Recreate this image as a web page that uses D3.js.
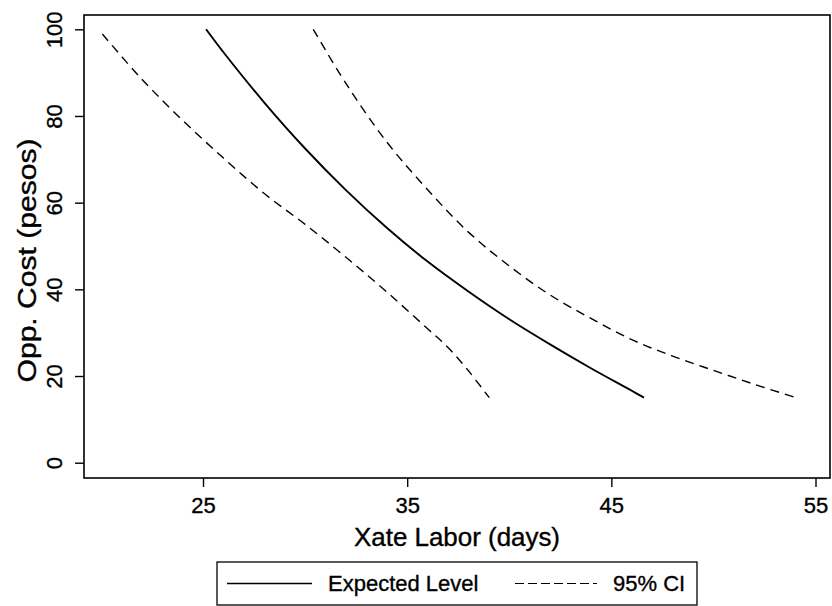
<!DOCTYPE html>
<html>
<head>
<meta charset="utf-8">
<script src="https://cdn.jsdelivr.net/npm/d3@7"></script>
<style>
  html, body { margin: 0; padding: 0; background: #fff; }
  svg { display: block; font-family: "Liberation Sans", Arial, sans-serif; }
  svg text { stroke: #000; stroke-width: 0.35px; }
</style>
</head>
<body>
<svg id="chart" width="832" height="606"></svg>
<script>
// Xate labor (days) against opportunity cost (pesos)
const expectedX = [25.15, 26, 28, 30, 32, 34, 36, 38, 40, 42, 44, 46, 46.6];
const expectedY = [100, 94.7, 83.1, 72.5, 62.9, 54.2, 46.4, 39.5, 33.1, 27.3, 21.8, 16.6, 15];

const upperX = [30.4, 32, 34, 36, 38, 40, 42, 44, 46, 48, 50, 52, 54.05];
const upperY = [100, 87.5, 74.0, 63.0, 53.2, 45.4, 38.7, 33.3, 28.4, 24.6, 21.3, 18.1, 15];

const lowerX = [20.07, 22, 24, 26, 28, 30, 32, 34, 36, 37, 38, 39.02];
const lowerY = [98.9, 88.5, 79.0, 70.3, 62.1, 55.0, 47.4, 39.4, 30.9, 26.6, 21.2, 15];

const xTicks = [25, 35, 45, 55];
const yTicks = [0, 20, 40, 60, 80, 100];
const legendLabels = ["Expected Level", "95% CI"];
const xTitle = "Xate Labor (days)";
const yTitle = "Opp. Cost (pesos)";

const svg = d3.select("#chart");
const plot = { left: 84, top: 15, right: 830, bottom: 478 };

const x = d3.scaleLinear().domain([19.17, 55.71]).range([plot.left, plot.right]);
const y = d3.scaleLinear().domain([-3.53, 103.3]).range([plot.bottom, plot.top]);

const zip = (xs, ys) => xs.map((v, i) => [v, ys[i]]);
const line = d3.line().x(d => x(d[0])).y(d => y(d[1])).curve(d3.curveCatmullRom.alpha(0.5));

// curves: lower and upper confidence bounds dashed, expected level solid
const g = svg.append("g");
[zip(lowerX, lowerY), zip(upperX, upperY)].forEach(pts => {
  g.append("path").datum(pts)
    .attr("d", line).attr("fill", "none").attr("stroke", "#000")
    .attr("stroke-width", 1.4).attr("stroke-dasharray", "9,6");
});
g.append("path").datum(zip(expectedX, expectedY))
  .attr("d", line).attr("fill", "none").attr("stroke", "#000")
  .attr("stroke-width", 1.9);

// frame
svg.append("rect")
  .attr("x", plot.left).attr("y", plot.top)
  .attr("width", plot.right - plot.left).attr("height", plot.bottom - plot.top)
  .attr("fill", "none").attr("stroke", "#000").attr("stroke-width", 1.6);

// x axis
const xAxis = d3.axisBottom(x).tickValues(xTicks).tickSize(9).tickPadding(10).tickFormat(d3.format("d"));
const xg = svg.append("g").attr("transform", `translate(0,${plot.bottom})`).call(xAxis);
xg.select(".domain").remove();
xg.selectAll("line").attr("stroke", "#000").attr("stroke-width", 1.4);
xg.selectAll("text").attr("font-size", 22).attr("fill", "#000")
  .attr("font-family", "Liberation Sans, Arial, sans-serif");

// y axis, labels turned to read upward
const yAxis = d3.axisLeft(y).tickValues(yTicks).tickSize(9).tickFormat(d3.format("d"));
const yg = svg.append("g").attr("transform", `translate(${plot.left},0)`).call(yAxis);
yg.select(".domain").remove();
yg.selectAll("line").attr("stroke", "#000").attr("stroke-width", 1.4);
yg.selectAll("text")
  .attr("x", null)
  .attr("text-anchor", "middle")
  .attr("transform", "translate(-20,0) rotate(-90)")
  .attr("dy", "-0.1em")
  .attr("font-size", 22).attr("fill", "#000")
  .attr("font-family", "Liberation Sans, Arial, sans-serif");

// axis titles
svg.append("text")
  .attr("x", (plot.left + plot.right) / 2).attr("y", 546)
  .attr("text-anchor", "middle").attr("font-size", 25).attr("fill", "#000")
  .attr("textLength", 206).attr("lengthAdjust", "spacingAndGlyphs")
  .text(xTitle);
svg.append("text")
  .attr("transform", `translate(36,${(plot.top + plot.bottom) / 2 + 14}) rotate(-90)`)
  .attr("text-anchor", "middle").attr("font-size", 25).attr("fill", "#000")
  .attr("textLength", 244).attr("lengthAdjust", "spacingAndGlyphs")
  .text(yTitle);

// legend
const lg = svg.append("g");
lg.append("rect").attr("x", 217).attr("y", 562).attr("width", 480).attr("height", 43)
  .attr("fill", "#fff").attr("stroke", "#000").attr("stroke-width", 1.3);
lg.append("line").attr("x1", 227).attr("x2", 312).attr("y1", 583.5).attr("y2", 583.5)
  .attr("stroke", "#000").attr("stroke-width", 1.6);
lg.append("text").attr("x", 328).attr("y", 591).attr("font-size", 22).attr("fill", "#000")
  .text(legendLabels[0]);
lg.append("line").attr("x1", 515).attr("x2", 597).attr("y1", 583.5).attr("y2", 583.5)
  .attr("stroke", "#000").attr("stroke-width", 1.2).attr("stroke-dasharray", "9,4");
lg.append("text").attr("x", 613).attr("y", 591).attr("font-size", 22).attr("fill", "#000")
  .text(legendLabels[1]);
</script>
</body>
</html>
